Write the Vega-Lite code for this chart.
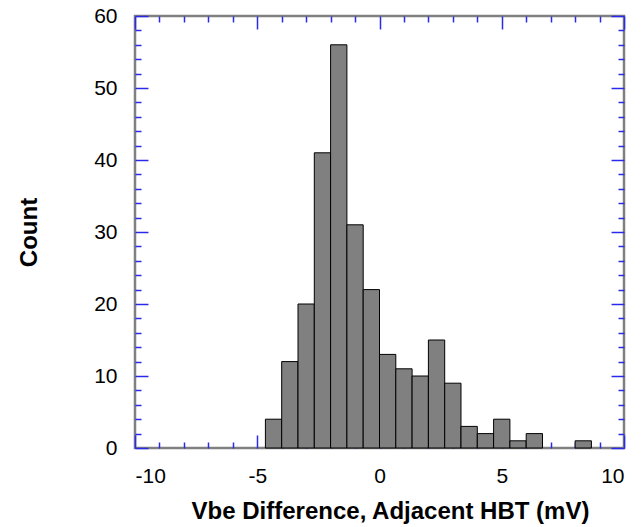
{
  "$schema": "https://vega.github.io/schema/vega-lite/v6.json",
  "width": 489,
  "height": 432,
  "autosize": "none",
  "padding": {"left": 135, "top": 16, "right": 19, "bottom": 79},
  "background": "white",
  "data": {"values": [
    {"lo": -4.6667, "hi": -4.0, "count": 4},
    {"lo": -4.0, "hi": -3.3333, "count": 12},
    {"lo": -3.3333, "hi": -2.6667, "count": 20},
    {"lo": -2.6667, "hi": -2.0, "count": 41},
    {"lo": -2.0, "hi": -1.3333, "count": 56},
    {"lo": -1.3333, "hi": -0.6667, "count": 31},
    {"lo": -0.6667, "hi": 0.0, "count": 22},
    {"lo": 0.0, "hi": 0.6667, "count": 13},
    {"lo": 0.6667, "hi": 1.3333, "count": 11},
    {"lo": 1.3333, "hi": 2.0, "count": 10},
    {"lo": 2.0, "hi": 2.6667, "count": 15},
    {"lo": 2.6667, "hi": 3.3333, "count": 9},
    {"lo": 3.3333, "hi": 4.0, "count": 3},
    {"lo": 4.0, "hi": 4.6667, "count": 2},
    {"lo": 4.6667, "hi": 5.3333, "count": 4},
    {"lo": 5.3333, "hi": 6.0, "count": 1},
    {"lo": 6.0, "hi": 6.6667, "count": 2},
    {"lo": 8.0, "hi": 8.6667, "count": 1}
  ]},
  "layer": [
    {
      "mark": {"type": "bar", "fill": "#808080", "stroke": "#000000", "strokeWidth": 1},
      "encoding": {
        "x": {"field": "lo", "type": "quantitative",
          "scale": {"domain": [-10, 10], "nice": false, "zero": false},
          "axis": {"orient": "bottom", "title": "Vbe Difference, Adjacent HBT (mV)",
            "values": [-10,-9,-8,-7,-6,-5,-4,-3,-2,-1,0,1,2,3,4,5,6,7,8,9,10],
            "labelExpr": "datum.value % 5 === 0 ? '' + datum.value : ''",
            "tickSize": {"condition": {"test": "datum.value % 5 === 0", "value": -13}, "value": -6},
            "labelPadding": 30, "titleX": 255}},
        "x2": {"field": "hi"},
        "y": {"field": "count", "type": "quantitative",
          "scale": {"domain": [0, 60], "nice": false},
          "axis": {"orient": "left", "title": "Count",
            "values": [0,2,4,6,8,10,12,14,16,18,20,22,24,26,28,30,32,34,36,38,40,42,44,46,48,50,52,54,56,58,60],
            "labelExpr": "datum.value % 10 === 0 ? '' + datum.value : ''",
            "tickSize": {"condition": {"test": "datum.value % 10 === 0", "value": -13}, "value": -6},
            "labelPadding": 31, "titlePadding": 52}},
        "y2": {"datum": 0}
      }
    },
    {
      "mark": {"type": "bar", "opacity": 0},
      "encoding": {
        "x": {"field": "lo", "type": "quantitative",
          "axis": {"orient": "top", "title": null, "labels": false,
            "values": [-10,-9,-8,-7,-6,-5,-4,-3,-2,-1,0,1,2,3,4,5,6,7,8,9,10],
            "tickSize": {"condition": {"test": "datum.value % 5 === 0", "value": -13}, "value": -6}}},
        "x2": {"field": "hi"},
        "y": {"field": "count", "type": "quantitative",
          "axis": {"orient": "right", "title": null, "labels": false,
            "values": [0,2,4,6,8,10,12,14,16,18,20,22,24,26,28,30,32,34,36,38,40,42,44,46,48,50,52,54,56,58,60],
            "tickSize": {"condition": {"test": "datum.value % 10 === 0", "value": -13}, "value": -6}}},
        "y2": {"datum": 0}
      }
    }
  ],
  "resolve": {"axis": {"x": "independent", "y": "independent"}},
  "config": {
    "view": {"stroke": "#808080", "strokeWidth": 2.5},
    "font": "Liberation Sans",
    "axis": {
      "domain": false,
      "grid": false,
      "tickColor": "#2a2ae8",
      "tickWidth": 1.5,
      "labelFont": "Liberation Sans",
      "labelFontSize": 21,
      "labelColor": "#000000",
      "titleFont": "Liberation Sans",
      "titleFontSize": 24,
      "titleFontWeight": "bold",
      "titleColor": "#000000"
    },
    "axisX": {"titlePadding": 13}
  }
}
